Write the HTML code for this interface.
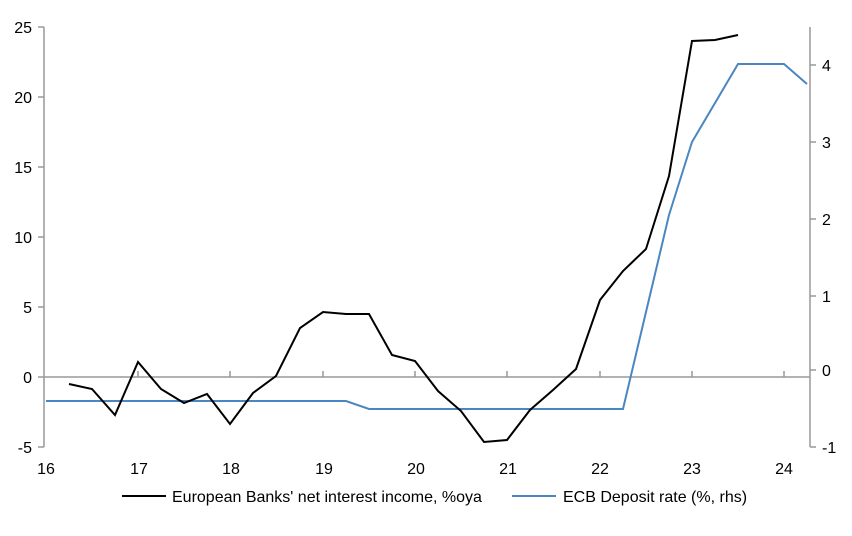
<!DOCTYPE html><html><head><style>body{margin:0;background:#fff}svg text{font-family:"Liberation Sans Narrow","Liberation Sans",sans-serif;font-size:16px;fill:#000}</style></head><body>
<svg width="852" height="531" xmlns="http://www.w3.org/2000/svg">
<g stroke="#999" stroke-width="1.5" fill="none">
<line x1="44" y1="27" x2="44" y2="447"/>
<line x1="810" y1="27" x2="810" y2="447"/>
<line x1="44" y1="377" x2="810" y2="377"/>
<path d="M38 27H44M38 97H44M38 167H44M38 237H44M38 307H44M38 377H44M38 447H44"/>
<path d="M810 65H816M810 142H816M810 219H816M810 296H816M810 370H816M810 447H816"/>
<path d="M138 371V377M230 371V377M323 371V377M415 371V377M507 371V377M600 371V377M692 371V377M784 371V377"/>
</g>
<g text-anchor="end">
<text x="32" y="33">25</text><text x="32" y="103">20</text><text x="32" y="173">15</text><text x="32" y="243">10</text><text x="32" y="313">5</text><text x="32" y="383">0</text><text x="32" y="453">-5</text></g>
<g>
<text x="822" y="71">4</text><text x="822" y="148">3</text><text x="822" y="225">2</text><text x="822" y="302">1</text><text x="822" y="376">0</text><text x="822" y="453">-1</text></g>
<g text-anchor="middle">
<text x="46" y="474">16</text><text x="139" y="474">17</text><text x="231" y="474">18</text><text x="324" y="474">19</text><text x="416" y="474">20</text><text x="508" y="474">21</text><text x="600" y="474">22</text><text x="692" y="474">23</text><text x="784" y="474">24</text></g>
<polyline fill="none" stroke="#4a86c0" stroke-width="2" points="46,401 346,401 369,409 623,409 646,312 669,215 692,142 715,103 738,64 784,64 807,84"/>
<polyline fill="none" stroke="#000" stroke-width="2" points="69,384 92,389 115,415 138,362 161,389 184,403 207,394 230,424 253,393 276,376 300,328 323,312 346,314 369,314 392,355 415,361 438,391 461,411 484,442 507,440 530,410 553,390 576,369 600,300 623,271 646,249 669,176 692,41 715,40 738,35"/>
<line x1="122" y1="496" x2="166" y2="496" stroke="#000" stroke-width="2"/>
<text x="172" y="502">European Banks' net interest income, %oya</text>
<line x1="512" y1="496" x2="556" y2="496" stroke="#4a86c0" stroke-width="2"/>
<text x="563" y="502">ECB Deposit rate (%, rhs)</text>
</svg></body></html>
